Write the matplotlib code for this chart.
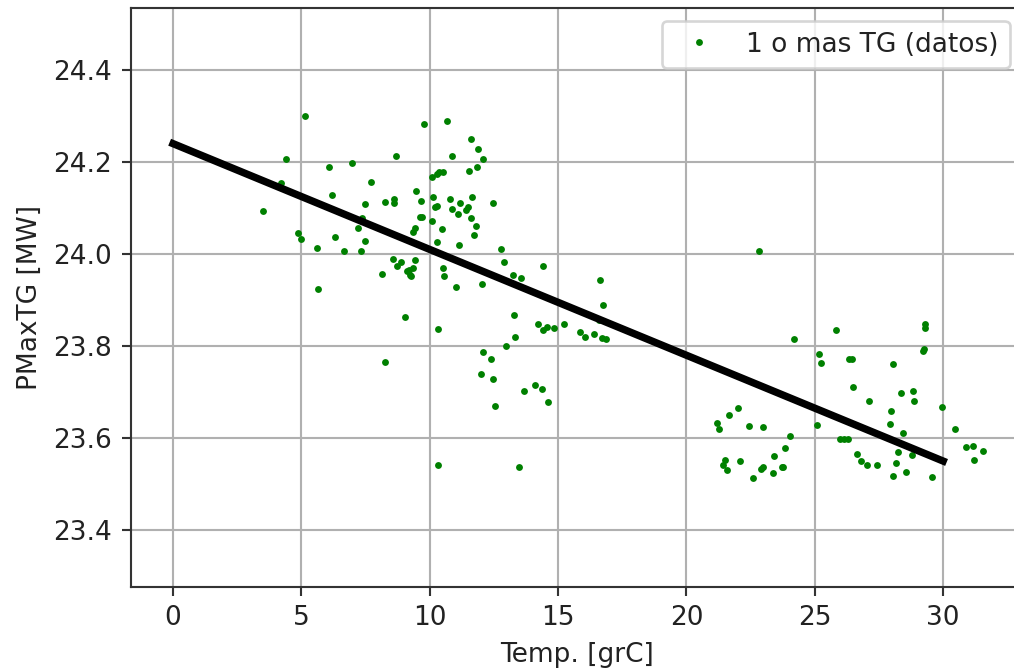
import numpy as np
import matplotlib
matplotlib.use('Agg')
import matplotlib.pyplot as plt

# measured points (temperature, max power)
temp = [3.5, 4.4, 4.2, 5.14, 6.08, 6.97, 8.69, 7.71, 6.2, 7.48, 8.26, 8.6, 8.6, 9.47,
        7.36, 7.2, 4.87, 5.0, 5.6, 6.3, 6.66, 7.32, 7.48, 8.57, 8.73, 8.88, 8.14, 9.19,
        9.27, 9.43, 5.65, 9.04, 9.35, 9.43, 9.62, 8.26,
        9.78, 10.67, 11.6, 11.88, 12.08, 10.87, 11.84, 11.53, 10.36, 10.52, 10.28, 10.09,
        9.66, 10.13, 10.2, 10.28, 10.79, 10.87, 11.18, 11.49, 11.41, 11.65, 11.1, 11.6,
        11.8, 12.47, 9.7, 10.09, 10.48, 11.73, 10.28, 11.14, 12.78, 9.12, 9.23, 9.35,
        10.52, 10.56, 11.02, 12.04, 12.9, 13.25, 13.56, 14.41, 10.32, 13.28, 13.32,
        14.22, 14.41, 14.57, 14.84, 15.23,
        12.97, 12.08, 12.39, 12.0, 12.47, 12.54, 13.67, 14.1, 14.37, 14.61, 10.32, 13.48,
        15.86, 16.05, 16.4, 16.87, 16.63, 16.75, 16.6, 16.7,
        22.83, 24.19, 25.83, 25.17, 25.24, 26.33, 22.01, 21.66, 21.19, 21.27, 22.44,
        22.98, 24.04, 23.84, 23.41, 25.09, 21.5, 21.43, 21.58, 22.09, 22.98, 22.9, 22.6,
        23.37, 23.72, 23.76,
        29.3, 29.3, 29.26, 29.22, 26.45, 28.05, 26.49, 27.11, 28.36, 28.83, 28.87, 27.97,
        29.96, 27.93, 30.46, 28.44, 26.0, 26.15, 26.3, 28.24, 28.79, 26.65, 26.8, 27.04,
        27.43, 28.17, 28.56, 28.05, 29.57, 30.89, 31.16, 31.55, 31.2]
pmax = [24.093, 24.207, 24.154, 24.30, 24.19, 24.198, 24.213, 24.157, 24.128, 24.109,
        24.113, 24.12, 24.11, 24.137, 24.078, 24.057, 24.046, 24.033, 24.013, 24.037,
        24.006, 24.006, 24.028, 23.989, 23.974, 23.983, 23.957, 23.965, 23.952, 23.987,
        23.924, 23.863, 24.048, 24.057, 24.08, 23.765,
        24.283, 24.289, 24.25, 24.228, 24.206, 24.213, 24.19, 24.18, 24.178, 24.178,
        24.174, 24.167, 24.115, 24.124, 24.102, 24.104, 24.12, 24.098, 24.111, 24.102,
        24.096, 24.124, 24.087, 24.078, 24.061, 24.111, 24.08, 24.072, 24.054, 24.041,
        24.026, 24.02, 24.011, 23.963, 23.954, 23.970, 23.970, 23.952, 23.928, 23.935,
        23.983, 23.954, 23.948, 23.974, 23.837, 23.867, 23.82, 23.848, 23.835, 23.841,
        23.839, 23.848,
        23.80, 23.787, 23.772, 23.739, 23.728, 23.67, 23.702, 23.715, 23.707, 23.678,
        23.541, 23.537,
        23.83, 23.82, 23.826, 23.815, 23.943, 23.889, 23.857, 23.817,
        24.007, 23.815, 23.835, 23.783, 23.763, 23.772, 23.665, 23.65, 23.633, 23.62,
        23.626, 23.624, 23.604, 23.578, 23.561, 23.628, 23.552, 23.541, 23.530, 23.55,
        23.537, 23.533, 23.513, 23.524, 23.537, 23.537,
        23.848, 23.839, 23.793, 23.789, 23.772, 23.761, 23.711, 23.68, 23.698, 23.702,
        23.68, 23.659, 23.667, 23.63, 23.62, 23.611, 23.598, 23.598, 23.598, 23.57,
        23.563, 23.565, 23.55, 23.541, 23.541, 23.546, 23.526, 23.517, 23.515, 23.58,
        23.583, 23.572, 23.552]

# fitted line ends
fit_temp = [0, 30]
fit_pmax = [24.24, 23.55]

DPI = 190
fig = plt.figure(figsize=(1014 / DPI, 672 / DPI), dpi=DPI)
# right spine falls just outside the picture, as in the original
ax = fig.add_axes([0.1289, 0.127, 0.8797, 0.8612])

ax.plot(temp, pmax, 'o', color='green', markersize=2.6, markeredgewidth=0,
        label='1 o mas TG (datos)', zorder=3)
ax.plot(fit_temp, fit_pmax, color='black', linewidth=2.8, zorder=4)

ax.set_xlim(-1.65, 33.1)
ax.set_ylim(23.277, 24.535)
ax.set_xticks([0, 5, 10, 15, 20, 25, 30])
ax.set_yticks([23.4, 23.6, 23.8, 24.0, 24.2, 24.4])
ax.grid(True, color='#b0b0b0')
ax.set_axisbelow(True)
for s in ax.spines.values():
    s.set_color('#333333')
ax.tick_params(colors='#333333', labelcolor='#222222')
ax.set_xlabel('Temp. [grC]', color='#222222')
ax.set_ylabel('PMaxTG [MW]', color='#222222')
leg = ax.legend(loc='upper right')
for t in leg.get_texts():
    t.set_color('#222222')

fig.savefig('out.png', dpi=DPI)
